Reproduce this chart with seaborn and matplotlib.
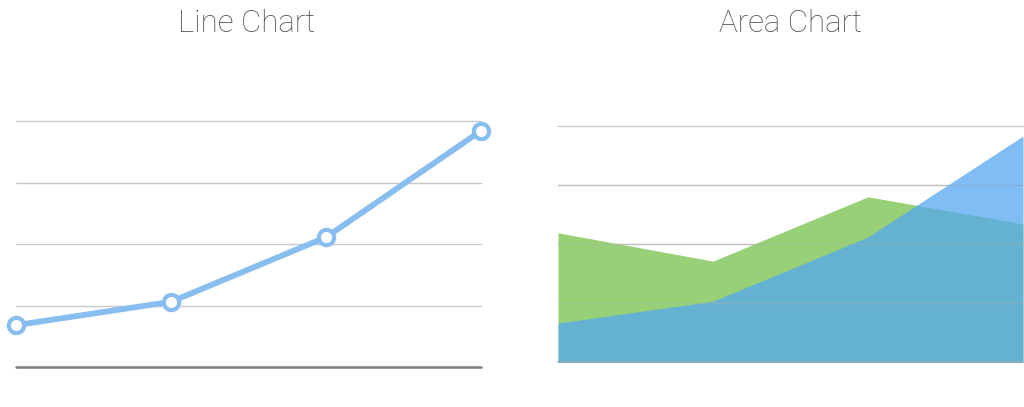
import matplotlib
matplotlib.use("Agg")
import matplotlib.pyplot as plt
import seaborn as sns
import pandas as pd

categories = ["A", "B", "C", "D"]
line_values = [0.68, 1.06, 2.11, 3.84]
area_green = [2.19, 1.71, 2.80, 2.34]
area_blue = [0.66, 1.03, 2.12, 3.83]
titles = ["Line Chart", "Area Chart"]

sns.set_theme(style="white")
plt.rcParams['font.family'] = ['Roboto', 'DejaVu Sans']

W, H = 1024, 407
fig = plt.figure(figsize=(W / 100, H / 100), dpi=100)

def axes_px(x0, x1, ytop, ybot):
    return fig.add_axes([x0 / W, (H - ybot) / H, (x1 - x0) / W, (ybot - ytop) / H])

x = list(range(len(categories)))
df = pd.DataFrame({"x": x, "line": line_values, "green": area_green, "blue": area_blue})

# Left: line chart
ax1 = axes_px(16, 481, 121, 367)
ax1.set_xlim(0, 3)
ax1.set_ylim(0, 4)
for g in [1, 2, 3, 4]:
    ax1.axhline(g, color="#C9C9C9", lw=1.0, zorder=0, clip_on=False)
ax1.axhline(0, color="#7C7C7C", lw=1.8, zorder=1, clip_on=False)
sns.lineplot(data=df, x="x", y="line", ax=ax1, color="#88BDF0", lw=4.2,
             marker="o", markersize=11, markerfacecolor="white",
             markeredgecolor="#88BDF0", markeredgewidth=3, clip_on=False, zorder=3)

# Right: area chart
ax2 = axes_px(558, 1023, 126, 362)
ax2.set_xlim(0, 3)
ax2.set_ylim(0, 4)
ax2.fill_between(df["x"], 0, df["green"], color="#97D077", lw=0, zorder=1)
ax2.fill_between(df["x"], 0, df["blue"], color="#54A7F2", alpha=0.74, lw=0, zorder=2)
for g in [1, 2, 3]:
    ax2.axhline(g, color="#B0B0B0", lw=1.0, zorder=3, alpha=0.35)
for g in [2, 3, 4]:
    ax2.axhline(g, color="#C9C9C9", lw=1.0, zorder=0, clip_on=False)
ax2.axhline(0, color="#8AA9B8", lw=1.2, zorder=4, clip_on=False)

for ax in (ax1, ax2):
    ax.set_xticks([])
    ax.set_yticks([])
    ax.set_xlabel("")
    ax.set_ylabel("")
    sns.despine(ax=ax, left=True, bottom=True)
    ax.patch.set_alpha(0)
    ax.legend_ = None

for cx, t in zip([247, 790], titles):
    fig.text(cx / W, 1 - 23 / H, t, ha="center", va="center",
             fontsize=22.5, color="#4F5055", fontweight="light")

fig.savefig("out.png", dpi=100)
